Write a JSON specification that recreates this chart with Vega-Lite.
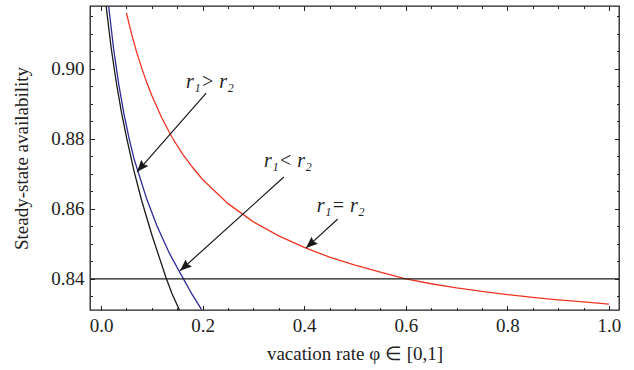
{
  "$schema": "https://vega.github.io/schema/vega-lite/v6.json",
  "width": 529,
  "height": 304,
  "autosize": "none",
  "padding": {"left": 90, "top": 6, "right": 15, "bottom": 60},
  "background": "white",
  "config": {
    "view": {"stroke": "#222", "strokeWidth": 1.3},
    "font": "Liberation Serif",
    "axis": {"grid": false, "domain": false, "tickColor": "#222", "tickWidth": 1, "labelFont": "Liberation Serif", "labelFontSize": 19, "labelColor": "#222", "titleFont": "Liberation Serif", "titleFontSize": 19, "titleFontWeight": "normal", "titleColor": "#222"}
  },
  "datasets": {
    "curves": [
      {"phi": 0.010, "A": 0.918, "s": "black"},
      {"phi": 0.020, "A": 0.906, "s": "black"},
      {"phi": 0.030, "A": 0.8962, "s": "black"},
      {"phi": 0.040, "A": 0.8878, "s": "black"},
      {"phi": 0.050, "A": 0.8806, "s": "black"},
      {"phi": 0.065, "A": 0.8708, "s": "black"},
      {"phi": 0.080, "A": 0.8624, "s": "black"},
      {"phi": 0.100, "A": 0.8526, "s": "black"},
      {"phi": 0.128, "A": 0.8403, "s": "black"},
      {"phi": 0.140, "A": 0.8357, "s": "black"},
      {"phi": 0.155, "A": 0.8309, "s": "black"},
      {"phi": 0.015, "A": 0.918, "s": "blue"},
      {"phi": 0.025, "A": 0.9055, "s": "blue"},
      {"phi": 0.035, "A": 0.8955, "s": "blue"},
      {"phi": 0.045, "A": 0.8873, "s": "blue"},
      {"phi": 0.055, "A": 0.8803, "s": "blue"},
      {"phi": 0.065, "A": 0.8743, "s": "blue"},
      {"phi": 0.073, "A": 0.8706, "s": "blue"},
      {"phi": 0.090, "A": 0.8628, "s": "blue"},
      {"phi": 0.110, "A": 0.8552, "s": "blue"},
      {"phi": 0.135, "A": 0.8472, "s": "blue"},
      {"phi": 0.163, "A": 0.8398, "s": "blue"},
      {"phi": 0.180, "A": 0.8354, "s": "blue"},
      {"phi": 0.198, "A": 0.8312, "s": "blue"},
      {"phi": 0.05, "A": 0.9160, "s": "red"},
      {"phi": 0.06, "A": 0.9101, "s": "red"},
      {"phi": 0.07, "A": 0.9049, "s": "red"},
      {"phi": 0.08, "A": 0.9003, "s": "red"},
      {"phi": 0.09, "A": 0.8961, "s": "red"},
      {"phi": 0.10, "A": 0.8924, "s": "red"},
      {"phi": 0.12, "A": 0.8859, "s": "red"},
      {"phi": 0.14, "A": 0.8804, "s": "red"},
      {"phi": 0.16, "A": 0.8758, "s": "red"},
      {"phi": 0.18, "A": 0.8719, "s": "red"},
      {"phi": 0.20, "A": 0.8684, "s": "red"},
      {"phi": 0.25, "A": 0.8615, "s": "red"},
      {"phi": 0.30, "A": 0.8563, "s": "red"},
      {"phi": 0.35, "A": 0.8523, "s": "red"},
      {"phi": 0.40, "A": 0.8490, "s": "red"},
      {"phi": 0.45, "A": 0.8462, "s": "red"},
      {"phi": 0.50, "A": 0.8439, "s": "red"},
      {"phi": 0.55, "A": 0.8419, "s": "red"},
      {"phi": 0.60, "A": 0.8400, "s": "red"},
      {"phi": 0.65, "A": 0.8386, "s": "red"},
      {"phi": 0.70, "A": 0.8374, "s": "red"},
      {"phi": 0.75, "A": 0.8364, "s": "red"},
      {"phi": 0.80, "A": 0.8355, "s": "red"},
      {"phi": 0.85, "A": 0.8347, "s": "red"},
      {"phi": 0.90, "A": 0.8340, "s": "red"},
      {"phi": 0.95, "A": 0.8334, "s": "red"},
      {"phi": 1.00, "A": 0.8328, "s": "red"}
    ],
    "arrows": [
      {"x1": 0.207, "y1": 0.8931, "x2": 0.071, "y2": 0.8706, "ang": 221},
      {"x1": 0.360, "y1": 0.8691, "x2": 0.1555, "y2": 0.8423, "ang": 228},
      {"x1": 0.466, "y1": 0.8571, "x2": 0.4035, "y2": 0.8488, "ang": 228}
    ],
    "labels": [
      {"x": 0.2146, "y": 0.8963, "t": "r₁> r₂"},
      {"x": 0.368, "y": 0.8737, "t": "r₁< r₂"},
      {"x": 0.472, "y": 0.8609, "t": "r₁= r₂"}
    ]
  },
  "resolve": {"axis": {"x": "independent", "y": "independent"}},
  "layer": [
    {
      "data": {"name": "curves"},
      "mark": {"type": "line", "strokeWidth": 1.3, "clip": true},
      "encoding": {
        "x": {"field": "phi", "type": "quantitative",
          "scale": {"domain": [-0.0217, 1.0198], "nice": false, "zero": false},
          "axis": {"orient": "bottom", "title": "vacation rate φ ∈ [0,1]", "titlePadding": 9,
            "values": [0,0.2,0.4,0.6,0.8,1.0], "format": ".1f", "offset": -4.5,
            "tickSize": 4.5, "labelPadding": 6, "labelFlush": false}},
        "y": {"field": "A", "type": "quantitative",
          "scale": {"domain": [0.8311, 0.918], "nice": false, "zero": false},
          "axis": {"orient": "left", "title": "Steady-state availability", "titlePadding": 19,
            "values": [0.84,0.86,0.88,0.9], "format": ".2f", "offset": -4.5,
            "tickSize": 4.5, "labelPadding": 6, "labelFlush": false}},
        "detail": {"field": "s"},
        "color": {"field": "s", "type": "nominal",
          "scale": {"domain": ["black", "blue", "red"], "range": ["#1a1a1a", "#2e2a96", "#ee3524"]}, "legend": null}
      }
    },
    {
      "data": {"values": [{"v": 0.84}]},
      "mark": {"type": "rule", "color": "#1a1a1a", "strokeWidth": 1.3},
      "encoding": {"y": {"field": "v", "type": "quantitative", "axis": null}}
    },
    {
      "data": {"name": "arrows"},
      "mark": {"type": "rule", "color": "#1a1a1a", "strokeWidth": 1.2},
      "encoding": {
        "x": {"field": "x1", "type": "quantitative",
          "axis": {"orient": "top", "title": null, "labels": false, "offset": -4.5,
            "values": [0,0.2,0.4,0.6,0.8,1.0], "tickSize": 4.5}},
        "y": {"field": "y1", "type": "quantitative",
          "axis": {"orient": "right", "title": null, "labels": false, "offset": -4.5,
            "values": [0.84,0.86,0.88,0.9], "tickSize": 4.5}},
        "x2": {"field": "x2"},
        "y2": {"field": "y2"}
      }
    },
    {
      "data": {"name": "arrows"},
      "mark": {"type": "point", "shape": "M0,0L0.8,2L0,1.7L-0.8,2Z", "filled": true, "color": "#1a1a1a", "opacity": 1, "size": 140},
      "encoding": {
        "x": {"field": "x2", "type": "quantitative",
          "axis": {"orient": "bottom", "title": null, "labels": false, "offset": -2.5,
            "values": [0.05,0.1,0.15,0.25,0.3,0.35,0.45,0.5,0.55,0.65,0.7,0.75,0.85,0.9,0.95], "tickSize": 2.5}},
        "y": {"field": "y2", "type": "quantitative",
          "axis": {"orient": "left", "title": null, "labels": false, "offset": -2.5,
            "values": [0.835,0.845,0.85,0.855,0.865,0.87,0.875,0.885,0.89,0.895,0.905,0.91,0.915], "tickSize": 2.5}},
        "angle": {"field": "ang", "type": "quantitative", "scale": null}
      }
    },
    {
      "data": {"name": "labels"},
      "mark": {"type": "text", "font": "Liberation Serif", "fontStyle": "italic", "fontSize": 20, "color": "#222", "align": "center", "baseline": "middle"},
      "encoding": {
        "x": {"field": "x", "type": "quantitative",
          "axis": {"orient": "top", "title": null, "labels": false, "offset": -2.5,
            "values": [0.05,0.1,0.15,0.25,0.3,0.35,0.45,0.5,0.55,0.65,0.7,0.75,0.85,0.9,0.95], "tickSize": 2.5}},
        "y": {"field": "y", "type": "quantitative",
          "axis": {"orient": "right", "title": null, "labels": false, "offset": -2.5,
            "values": [0.835,0.845,0.85,0.855,0.865,0.87,0.875,0.885,0.89,0.895,0.905,0.91,0.915], "tickSize": 2.5}},
        "text": {"field": "t"}
      }
    }
  ]
}
